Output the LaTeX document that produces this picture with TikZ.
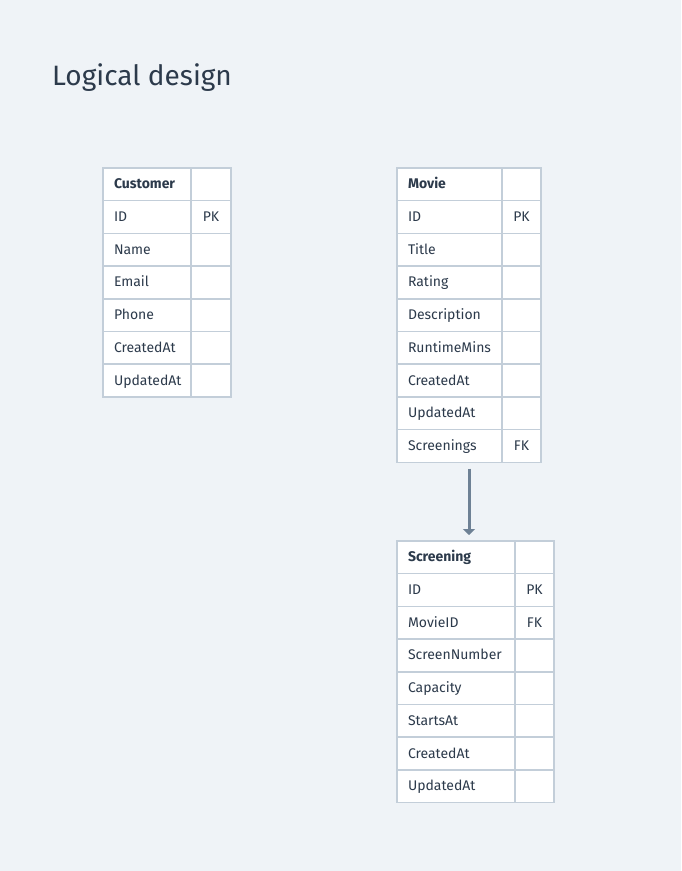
\documentclass[tikz,border=0pt]{standalone}
\usepackage{fontspec}
\setmainfont{Fira Sans}
\usetikzlibrary{arrows.meta,positioning,fit}
\definecolor{bgcol}{HTML}{EFF3F7}
\definecolor{gridcol}{HTML}{C3CED9}
\definecolor{inkcol}{HTML}{2C3A4B}
\definecolor{linkcol}{HTML}{6E8195}

\begin{document}
\begin{tikzpicture}
    [x=1pt, y=-1pt, font=\fontsize{14}{16}\selectfont, text=inkcol,
    cell/.style={draw=gridcol, line width=1.5pt, fill=white, outer sep=0pt,
      minimum height=32.7pt, inner ysep=0pt, text height=11pt, text depth=2pt,
      anchor=north west},
    field/.style={cell, text width=#1, inner xsep=11pt, align=left},
    head/.style={field=#1, font=\fontsize{14}{16}\selectfont\bfseries},
    key/.style={cell, text width=#1, inner xsep=0pt, align=center},
    link/.style={draw=linkcol, line width=3pt, -{Triangle[width=12pt,length=6pt]},
      shorten <=6pt, shorten >=6pt}]

  \fill[bgcol] (0,0) rectangle (681,871);
  \useasboundingbox (0,0) rectangle (681,871);

  \node[anchor=base west, inner sep=0pt, font=\fontsize{28}{32}\selectfont] (title) at (52,85) {Logical design};

  % Customer
  \node[head=66pt] (cust0) at (103,168) {Customer};
  \node[key=40pt, right=0pt of cust0] (cust0-k) {};
  \foreach \f/\k [count=\i, evaluate=\i as \j using int(\i-1)] in
      {ID/PK, Name/{}, Email/{}, Phone/{}, CreatedAt/{}, UpdatedAt/{}} {
    \node[field=66pt, below=0pt of cust\j] (cust\i) {\f};
    \node[key=40pt, right=0pt of cust\i] (cust\i-k) {\k};
  }

  % Movie
  \node[head=83pt] (movie0) at (397,168) {Movie};
  \node[key=39pt, right=0pt of movie0] (movie0-k) {};
  \foreach \f/\k [count=\i, evaluate=\i as \j using int(\i-1)] in
      {ID/PK, Title/{}, Rating/{}, Description/{}, RuntimeMins/{},
       CreatedAt/{}, UpdatedAt/{}, Screenings/FK} {
    \node[field=83pt, below=0pt of movie\j] (movie\i) {\f};
    \node[key=39pt, right=0pt of movie\i] (movie\i-k) {\k};
  }
  \node[fit=(movie0)(movie8-k), inner sep=0pt] (movie) {};

  % Screening
  \node[head=96pt] (scr0) at (397,541) {Screening};
  \node[key=39pt, right=0pt of scr0] (scr0-k) {};
  \foreach \f/\k [count=\i, evaluate=\i as \j using int(\i-1)] in
      {ID/PK, MovieID/FK, ScreenNumber/{}, Capacity/{}, StartsAt/{},
       CreatedAt/{}, UpdatedAt/{}} {
    \node[field=96pt, below=0pt of scr\j] (scr\i) {\f};
    \node[key=39pt, right=0pt of scr\i] (scr\i-k) {\k};
  }

  \draw[link] (movie.south) -- (movie.south |- scr0.north);

\end{tikzpicture}
\end{document}
